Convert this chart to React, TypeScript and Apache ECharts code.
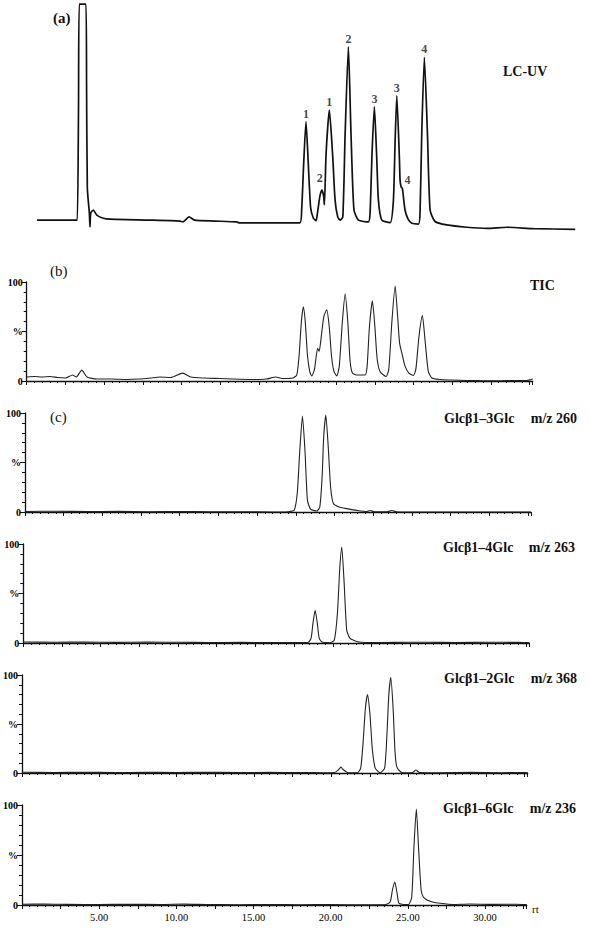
import React, { useEffect, useRef } from 'react';
import * as echarts from 'echarts';

// ---------- data (retention time in min, signal) ----------
const TIME_MAX = 32.7;
const UV_TIME_MAX = 35.5;

// LC-UV trace (arbitrary absorbance units, top clipped at ~94.5)
const uvTrace: [number, number][] = [
  [0.52, 0.6], [2.97, 0.6], [3.12, 0.6], [3.2, 50], [3.25, 94.5], [3.68, 94.5], [3.72, 60], [3.77, 14.5],
  [3.9, 3.7], [3.94, -2.4], [3.99, 3.7], [4.16, 5], [4.38, 2.8], [4.8, 1.4], [5.24, 1.0], [7.8, 0.6],
  [9.76, 0.2], [9.95, -0.2], [10.34, 2], [10.7, 0.6], [12.0, 0.2], [13.4, -0.2], [13.6, -0.6], [15.6, -0.6],
  [17.5, -0.6], [17.62, 5], [17.75, 25], [17.9, 43.4], [18.05, 25], [18.2, 6], [18.38, 1.4], [18.55, 0.35],
  [18.64, 3.6], [18.8, 11], [18.92, 13.7], [19.03, 11.5], [19.09, 7.2], [19.2, 29.6], [19.41, 48.5],
  [19.63, 28], [19.78, 9.3], [19.95, 2], [20.1, 0.6], [20.28, 2], [20.43, 38], [20.64, 76], [20.81, 38],
  [21.0, 5], [21.29, 0.6], [21.93, -0.2], [22.04, 3.5], [22.17, 30], [22.32, 50], [22.47, 28], [22.58, 9.3],
  [22.8, 0.6], [23.34, -0.5], [23.55, 9.3], [23.66, 35], [23.77, 54.7], [23.94, 26.7], [23.98, 18],
  [24.05, 15], [24.13, 14.4], [24.3, 5], [24.5, 1], [24.74, -0.8], [25.17, -1.1], [25.27, 3.5], [25.38, 38],
  [25.55, 71.4], [25.75, 38], [25.92, 5], [26.24, 0], [27.0, -1.5], [28.29, -2.5], [29.59, -3], [30.88, -2.5],
  [32.6, -3.1], [35.3, -3.4],
];

const uvPeakTimes = [17.9, 18.92, 19.41, 20.64, 22.32, 23.77, 24.13, 25.55];
const uvPeakValues = [43.4, 13.7, 48.5, 76, 50, 54.7, 14.4, 71.4];
const uvPeakLabels = ['1', '2', '1', '2', '3', '3', '4', '4'];

// TIC (%)
const ticTrace: [number, number][] = [
  [0.0, 4], [0.5, 4.5], [1.0, 4], [1.5, 4.5], [2.0, 3.5], [2.5, 3], [2.97, 6], [3.2, 4], [3.56, 11], [3.9, 4],
  [4.54, 2], [5.5, 2], [6.5, 1.5], [7.3, 2], [8.0, 3], [8.6, 4], [9.3, 3.5], [10.08, 8], [10.6, 4], [11.5, 3],
  [12.5, 2.5], [13.3, 2], [14.5, 1.5], [15.5, 2], [16.1, 4], [16.5, 2.5], [17.2, 3], [17.45, 6], [17.6, 25],
  [17.75, 60], [17.88, 75], [18.0, 60], [18.15, 25], [18.3, 9], [18.42, 5], [18.6, 12], [18.8, 33], [18.9, 30],
  [19.0, 40], [19.2, 65], [19.39, 72], [19.55, 55], [19.7, 25], [19.85, 10], [20.04, 5], [20.2, 15], [20.4, 60],
  [20.58, 88], [20.75, 60], [20.9, 20], [21.05, 8], [21.3, 6], [21.87, 6], [22.0, 15], [22.15, 55], [22.34, 81],
  [22.5, 55], [22.65, 22], [22.85, 9], [23.23, 4.5], [23.4, 12], [23.6, 60], [23.81, 96], [23.95, 70], [24.1, 38],
  [24.25, 28], [24.45, 15], [24.7, 8], [24.99, 5.5], [25.15, 12], [25.35, 45], [25.57, 66], [25.75, 40],
  [25.95, 10], [26.18, 3], [26.72, 1.5], [27.5, 1], [28.44, 0.5], [29.5, 0.3], [30.6, 0.2], [31.5, 0.5],
  [32.33, 0.5], [32.7, 2],
];

// Glcβ1–3Glc, m/z 260 (%)
const glc13Trace: [number, number][] = [
  [0, 0.5], [2, 0.8], [4, 0.5], [6, 0.6], [8, 0.3], [10, 0.5], [12, 0.2], [14, 0.3], [16, 0], [17.0, 0.3],
  [17.4, 2], [17.6, 20], [17.75, 60], [17.93, 97], [18.1, 60], [18.25, 12], [18.45, 3], [18.86, 1], [19.05, 5],
  [19.2, 35], [19.3, 75], [19.44, 98], [19.6, 65], [19.75, 25], [19.93, 8.5], [20.3, 5], [20.8, 3.4], [21.5, 1.5],
  [22.09, 0.5], [22.3, 1.5], [22.6, 0.3], [23.4, 0.3], [23.7, 1.5], [24.0, 0.3], [25, 0], [27, 0], [29, 0],
  [31, 0], [32.7, 0],
];

// Glcβ1–4Glc, m/z 263 (%)
const glc14Trace: [number, number][] = [
  [0, 1], [2, 0.8], [4, 1], [6, 0.6], [8, 0.9], [10, 0.7], [12, 0.5], [14, 0.6], [16, 0.5], [17.5, 0.4],
  [18.4, 0.5], [18.6, 5], [18.72, 20], [18.86, 33], [19.0, 20], [19.12, 5], [19.3, 1], [19.82, 0.3], [20.1, 3],
  [20.3, 30], [20.45, 75], [20.58, 97], [20.72, 65], [20.9, 13], [21.1, 5], [21.55, 1.5], [22.3, 0.5], [24, 0.6],
  [26, 0.8], [28, 0.5], [30, 0.8], [32, 0.6], [32.7, 0.5],
];

// Glcβ1–2Glc, m/z 368 (%)
const glc12Trace: [number, number][] = [
  [0, 0.8], [2, 0.5], [4, 0.8], [6, 0.4], [8, 0.7], [10, 0.5], [12, 0.8], [14, 0.5], [16, 0.6], [18, 0.4],
  [19.5, 0.3], [20.2, 0.5], [20.45, 3], [20.62, 6], [20.8, 3], [21.1, 0.3], [21.7, 0.3], [21.9, 5], [22.05, 30],
  [22.2, 65], [22.34, 80], [22.5, 60], [22.65, 25], [22.84, 5], [23.16, 0.3], [23.45, 5], [23.6, 40], [23.72, 80],
  [23.85, 97.5], [24.0, 65], [24.12, 22], [24.24, 6], [24.5, 1], [24.67, 0.3], [25.25, 0.5], [25.47, 3],
  [25.7, 0.5], [27, 0.3], [29, 0.6], [31, 0.3], [32.7, 0.5],
];

// Glcβ1–6Glc, m/z 236 (%)
const glc16Trace: [number, number][] = [
  [0, 0.8], [1.5, 1], [3, 0.6], [5, 0.5], [7, 0.8], [9, 0.5], [10.5, 0.9], [12, 0.5], [14, 0.3], [16, 0.5],
  [18, 0.3], [20, 0.4], [22, 0.2], [23.5, 0.3], [23.85, 3], [24.0, 15], [24.15, 23], [24.3, 12], [24.41, 2],
  [24.7, 0.5], [25.05, 0.5], [25.25, 8], [25.4, 60], [25.55, 96], [25.7, 55], [25.86, 15], [26.0, 8], [26.24, 5],
  [26.6, 3], [27.1, 1.7], [27.94, 0.5], [29, 1], [30.5, 0.6], [32, 0.8], [32.7, 0.5],
];

const yTickLabels: Record<number, string> = { 0: '0', 50: '%', 100: '100' };
const ionNames = ['Glcβ1–3Glc', 'Glcβ1–4Glc', 'Glcβ1–2Glc', 'Glcβ1–6Glc'];
const ionMz = ['m/z 260', 'm/z 263', 'm/z 368', 'm/z 236'];

// ---------- layout ----------
const SERIF = '"Liberation Serif", "DejaVu Serif", serif';
const PX_PER_MIN = 506 / TIME_MAX;

const panels = [
  { trace: ticTrace, left: 26.7, top: 282, height: 99 },
  { trace: glc13Trace, left: 25, top: 413, height: 99 },
  { trace: glc14Trace, left: 23.3, top: 544, height: 99 },
  { trace: glc12Trace, left: 21.7, top: 675, height: 98 },
  { trace: glc16Trace, left: 20.7, top: 805, height: 100 },
];
const ionTitleY = [418.5, 547.5, 678.5, 808];
const ionTitleX = [444, 443, 444, 443];
const ionMzRight = [577, 575, 577, 576];

function buildOption(): echarts.EChartsOption {
  const grid: any[] = [{ left: 29, top: 3, width: UV_TIME_MAX * PX_PER_MIN, height: 230 }];
  const xAxis: any[] = [{ gridIndex: 0, type: 'value', min: 0, max: UV_TIME_MAX, show: false }];
  const yAxis: any[] = [{ gridIndex: 0, type: 'value', min: -5, max: 95, show: false }];
  const series: any[] = [
    {
      type: 'line', xAxisIndex: 0, yAxisIndex: 0, data: uvTrace, symbol: 'none', smooth: 0.2,
      lineStyle: { color: '#111', width: 1.7 }, silent: true,
    },
    {
      type: 'scatter', xAxisIndex: 0, yAxisIndex: 0, symbolSize: 0, silent: true,
      data: uvPeakTimes.map((t, k) => ({
        value: [t, uvPeakValues[k]],
        label: {
          formatter: uvPeakLabels[k],
          offset: k === 1 ? [-2, -4] : k === 6 ? [5, 0] : [0, 0],
        },
      })),
      label: {
        show: true, position: 'top', distance: 2, color: '#111',
        fontFamily: SERIF, fontWeight: 'bold', fontSize: 12,
      },
    },
  ];

  panels.forEach((p, i) => {
    const gi = i + 1;
    const isLast = i === panels.length - 1;
    grid.push({ left: p.left, top: p.top, width: 506, height: p.height });
    xAxis.push({
      gridIndex: gi, type: 'value', min: 0, max: TIME_MAX, interval: 2.5,
      axisLine: { show: true, onZero: false, lineStyle: { color: '#111', width: 1.3 } },
      axisTick: { show: true, length: 4, lineStyle: { color: '#111', width: 1 } },
      minorTick: { show: true, splitNumber: 5, length: 2, lineStyle: { color: '#111', width: 1 } },
      splitLine: { show: false },
      minorSplitLine: { show: false },
      axisLabel: {
        show: isLast, margin: 7, fontSize: 10.5, fontFamily: SERIF, color: '#000',
        formatter: (v: number) => (v > 0 && Math.abs(v % 5) < 1e-6 ? v.toFixed(2) : ''),
      },
    });
    yAxis.push({
      gridIndex: gi, type: 'value', min: 0, max: 100, interval: 50,
      axisLine: { show: true, lineStyle: { color: '#111', width: 1.3 } },
      axisTick: { show: true, length: 5, lineStyle: { color: '#111', width: 1 } },
      minorTick: { show: true, splitNumber: 5, length: 3, lineStyle: { color: '#111', width: 1 } },
      splitLine: { show: false },
      minorSplitLine: { show: false },
      axisLabel: {
        margin: 4, fontSize: 10, fontFamily: SERIF, color: '#000', fontWeight: 'bold',
        formatter: (v: number) => yTickLabels[Math.round(v)] ?? '',
      },
    });
    series.push({
      type: 'line', xAxisIndex: gi, yAxisIndex: gi, data: p.trace, symbol: 'none', smooth: 0.2,
      lineStyle: { color: '#222', width: 1.1 }, silent: true,
    });
  });

  const txt = (text: string, x: number, y: number, size: number, bold: boolean, align = 'left') => ({
    type: 'text', x, y, silent: true,
    style: {
      text, fill: '#111', font: `${bold ? 'bold ' : ''}${size}px ${SERIF}`,
      textAlign: align, textVerticalAlign: 'middle',
    },
  });

  const graphic: any[] = [
    txt('(a)', 53, 18, 15, true),
    txt('LC-UV', 503, 71, 14, true),
    txt('(b)', 50, 271, 15, false),
    txt('TIC', 530, 285.5, 14, true),
    txt('(c)', 50, 417, 15, false),
    txt('rt', 532, 909, 11, false),
  ];
  ionNames.forEach((n, k) => {
    graphic.push(txt(n, ionTitleX[k], ionTitleY[k], 14, true));
    graphic.push(txt(ionMz[k], ionMzRight[k], ionTitleY[k], 14, true, 'right'));
  });

  return {
    animation: false,
    backgroundColor: '#ffffff',
    grid, xAxis, yAxis, series, graphic,
  };
}

export default function App() {
  const ref = useRef<HTMLDivElement>(null);
  useEffect(() => {
    if (!ref.current) return;
    const chart = echarts.init(ref.current, undefined, { renderer: 'svg' });
    chart.setOption(buildOption());
    return () => chart.dispose();
  }, []);
  return (
    <div
      ref={ref}
      style={{ position: 'fixed', left: 0, top: 0, width: 590, height: 929, background: '#fff' }}
    />
  );
}
